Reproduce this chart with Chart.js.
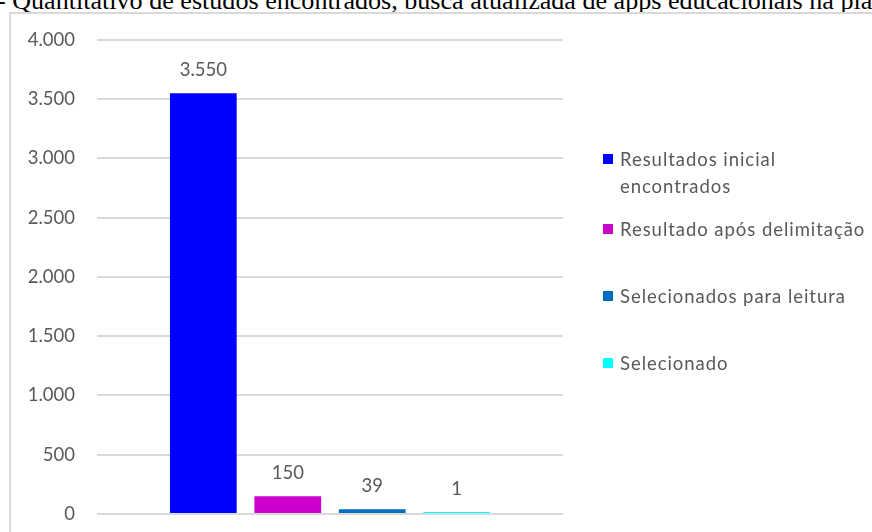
<!DOCTYPE html>
<html>
<head>
<meta charset="utf-8">
<script src="https://cdn.jsdelivr.net/npm/chart.js@4.4.0/dist/chart.umd.min.js"></script>
<style>
    html, body { margin: 0; padding: 0; background: #fff; }
    body { width: 872px; height: 532px; overflow: hidden; position: relative; }
    #title {
        position: absolute; left: -3px; top: -13px; line-height: 27px;
        font-family: "Liberation Serif", "Times New Roman", serif;
        font-size: 26.1px; color: #000; white-space: nowrap;
    }
    #frame {
        position: absolute; left: 9px; top: 12px; width: 900px; height: 600px;
        border: 2px solid #d9d9d9; box-sizing: border-box;
    }
    #chart { position: absolute; left: 0; top: 0; }
    #legend { position: absolute; left: 0; top: 0; }
    .item {
        position: absolute; left: 603px; width: 269px;
        font-family: Lato, "Open Sans", sans-serif; font-size: 18.5px;
        letter-spacing: 0.95px; line-height: 27px; color: #595959;
    }
    .item .box { position: absolute; left: 0; top: 8px; width: 10px; height: 10px; }
    .item .txt { margin-left: 17px; }
</style>
</head>
<body>
<div id="title">- Quantitativo de estudos encontrados, busca atualizada de apps educacionais na plataforma</div>
<div id="frame"></div>
<canvas id="chart" width="872" height="547"></canvas>
<div id="legend"></div>
<script>
// Data
const categories = [''];
const seriesNames = ['Resultados inicial encontrados', 'Resultado após delimitação', 'Selecionados para leitura', 'Selecionado'];
const seriesValues = [3550, 150, 39, 1];
const seriesColors = ['#0000ff', '#cc00cc', '#0070c0', '#00ffff'];
const yTicks = [0, 500, 1000, 1500, 2000, 2500, 3000, 3500, 4000];

const textColor = '#595959';
const textFont = { family: 'Lato, "Open Sans", sans-serif', size: 18.5 };

// 3550 -> "3.550"
function fmt(v) {
    return String(v).replace(/\B(?=(\d{3})+(?!\d))/g, '.');
}

// value labels above each bar
const barLabels = {
    id: 'barLabels',
    afterDatasetsDraw(chart) {
        const ctx = chart.ctx;
        ctx.save();
        ctx.font = textFont.size + 'px ' + textFont.family;
        ctx.fillStyle = textColor;
        ctx.textAlign = 'center';
        ctx.textBaseline = 'middle';
        chart.data.datasets.forEach((ds, i) => {
            chart.getDatasetMeta(i).data.forEach((bar, j) => {
                ctx.fillText(fmt(ds.data[j]), bar.x, bar.y - 23);
            });
        });
        ctx.restore();
    }
};

const chart = new Chart(document.getElementById('chart'), {
    type: 'bar',
    data: {
        labels: categories,
        datasets: seriesNames.map((name, i) => ({
            label: name,
            data: [seriesValues[i]],
            backgroundColor: seriesColors[i],
            borderWidth: 0,
            minBarLength: 2,
            categoryPercentage: 0.725,
            barPercentage: 0.79
        }))
    },
    options: {
        responsive: false,
        animation: false,
        layout: { padding: { left: 0, top: 40, right: 309, bottom: 4 } },
        plugins: { legend: { display: false }, tooltip: { enabled: false } },
        scales: {
            x: { display: false },
            y: {
                min: 0,
                max: 4000,
                afterBuildTicks: scale => { scale.ticks = yTicks.map(v => ({ value: v })); },
                afterFit: scale => { scale.width = 97; },
                ticks: {
                    color: textColor,
                    font: textFont,
                    padding: 22,
                    callback: v => fmt(v)
                },
                grid: { color: '#d9d9d9', lineWidth: 2, drawTicks: false },
                border: { display: false }
            }
        }
    },
    plugins: [barLabels]
});

// legend (Excel style, right side)
const legendTops = [146, 216, 283, 350];
const legend = document.getElementById('legend');
seriesNames.forEach((name, i) => {
    const item = document.createElement('div');
    item.className = 'item';
    item.style.top = legendTops[i] + 'px';
    item.innerHTML = '<div class="box" style="background:' + seriesColors[i] + '"></div><div class="txt">' + name + '</div>';
    legend.appendChild(item);
});
</script>
</body>
</html>
